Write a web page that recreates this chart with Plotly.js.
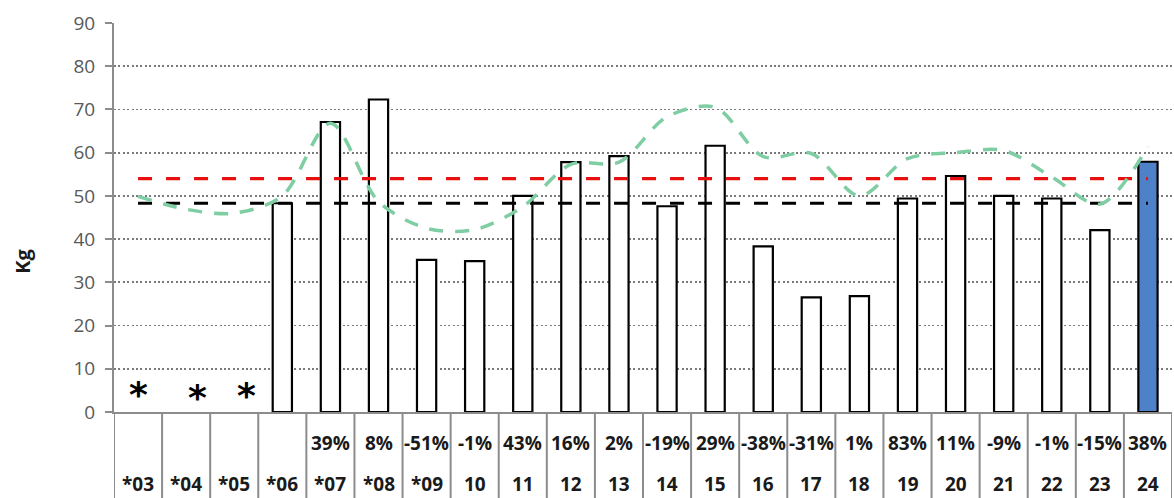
<!DOCTYPE html>
<html>
<head>
<meta charset="utf-8">
<script src="https://cdn.plot.ly/plotly-3.0.1.min.js"></script>
<style>html,body{margin:0;padding:0;background:#fff;}#chart{width:1174px;height:498px;}</style>
</head>
<body>
<div id="chart"></div>
<script>
const categories = ['*03','*04','*05','*06','*07','*08','*09','10','11','12','13','14','15','16','17','18','19','20','21','22','23','24'];
const pctLabels = ['','','','','39%','8%','-51%','-1%','43%','16%','2%','-19%','29%','-38%','-31%','1%','83%','11%','-9%','-1%','-15%','38%'];
const kgValues = [null,null,null,48.3,67.1,72.3,35.2,34.9,50.0,57.8,59.2,47.6,61.6,38.3,26.5,26.8,49.4,54.6,50.0,49.4,42.1,57.9];
const trendValues = [49.9,46.9,46.0,50.0,66.8,48.7,42.5,42.2,47.5,57.3,57.8,68.3,70.5,59.1,59.8,50.0,58.6,60.0,60.5,54.4,48.1,61.4];
const redLevel = 54.0;
const blackLevel = 48.3;
const missing = ['*03','*04','*05'];
const yTicks = [0,10,20,30,40,50,60,70,80,90];

const n = categories.length;
const barColors = categories.map((c,i)=> i===n-1 ? '#4f81c9' : '#ffffff');

const traces = [
  {type:'bar', x:categories, y:kgValues, width:0.4,
   marker:{color:barColors, line:{color:'#000000', width:2.2}}, hoverinfo:'skip'},
  {type:'scatter', mode:'lines', x:categories, y:categories.map(()=>redLevel),
   line:{color:'#e8100f', width:3.2, dash:'14px,14px'}},
  {type:'scatter', mode:'lines', x:categories, y:categories.map(()=>blackLevel),
   line:{color:'#000000', width:3.2, dash:'14px,14px'}},
  {type:'scatter', mode:'lines', x:categories, y:trendValues,
   line:{color:'#7fcda3', width:3.5, dash:'14px,12px', shape:'spline', smoothing:0.9}}
];

const shapes = [];
for (let i=0;i<=n;i++){
  shapes.push({type:'line', xref:'x', yref:'paper', x0:i-0.5, x1:i-0.5, y0:0, y1:-0.23,
    line:{color:'#8c8c8c', width:2}});
}

const bottomPaper = -86/389;
const annotations = [];
categories.forEach((c,i)=>{
  annotations.push({x:i, xref:'x', yref:'paper', y:-0.0797, yanchor:'middle', xanchor:'center', showarrow:false,
    text:'<b>'+pctLabels[i]+'</b>', font:{family:'Open Sans', size:19, color:'#1a1a1a'}});
  annotations.push({x:i, xref:'x', yref:'paper', y:bottomPaper, yanchor:'bottom', xanchor:'center', showarrow:false,
    borderpad:0, text:'<b>'+c+'</b>', font:{family:'Open Sans', size:19, color:'#1a1a1a'}});
});
const starShift = [0, 11, 12];
const starY = [-18, -15, -17];
missing.forEach((c,i)=>{
  annotations.push({x:categories.indexOf(c), xref:'x', y:0, yref:'y', yanchor:'middle', xanchor:'center', yshift:-starY[i], xshift:starShift[i],
    showarrow:false, text:'<b>*</b>', font:{family:'DejaVu Sans', size:36, color:'#000'}});
});
annotations.push({xref:'paper', yref:'paper', x:0, xshift:-91, y:0.386, xanchor:'center', yanchor:'middle', showarrow:false,
  text:'<b>Kg</b>', textangle:-90, font:{family:'Open Sans', size:20, color:'#1a1a1a'}});

const layout = {
  width:1174, height:498,
  margin:{l:114, r:2, t:23, b:86},
  paper_bgcolor:'#ffffff', plot_bgcolor:'#ffffff',
  showlegend:false,
  xaxis:{type:'category', range:[-0.5, n-0.5], showticklabels:false, showgrid:false,
    showline:true, linecolor:'#8c8c8c', linewidth:2, zeroline:false, ticks:''},
  yaxis:{range:[0,90], tickvals:yTicks, showgrid:true, gridcolor:'#7a7a7a', gridwidth:1.8, griddash:'2px,2.4px',
    showline:true, linecolor:'#8c8c8c', linewidth:2, ticks:'outside', ticklen:7, tickcolor:'#8c8c8c', tickwidth:2,
    zeroline:false, tickfont:{family:'Open Sans', size:19, color:'#595959'}, ticklabelstandoff:6},
  shapes:shapes,
  annotations:annotations
};
Plotly.newPlot('chart', traces, layout, {displayModeBar:false, staticPlot:true});
</script>
</body>
</html>
